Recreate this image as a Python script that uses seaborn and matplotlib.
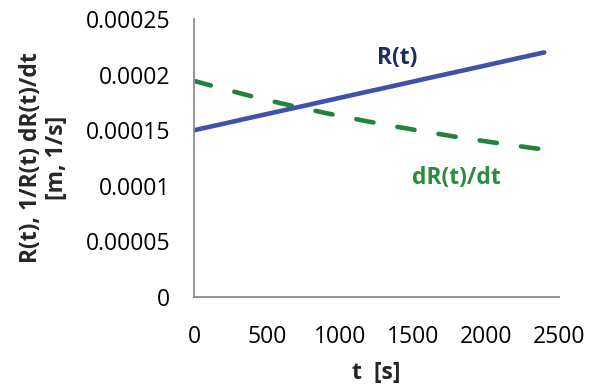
import pandas as pd
import matplotlib
matplotlib.use("Agg")
import matplotlib.pyplot as plt
import seaborn as sns

# values
t_s = [0, 200, 400, 600, 800, 1000, 1200, 1400, 1600, 1800, 2000, 2200, 2400]
r_t = [0.000150, 0.0001558, 0.0001617, 0.0001675, 0.0001733, 0.0001792, 0.000185,
       0.0001908, 0.0001967, 0.0002025, 0.0002083, 0.0002142, 0.000220]
drdt = [0.0001944, 0.0001872, 0.0001804, 0.0001741, 0.0001683, 0.0001628, 0.0001577,
        0.0001529, 0.0001483, 0.0001440, 0.0001400, 0.0001362, 0.0001326]
x_ticks = [0, 500, 1000, 1500, 2000, 2500]
y_ticks = [0, 0.00005, 0.0001, 0.00015, 0.0002, 0.00025]
y_tick_labels = ["0", "0.00005", "0.0001", "0.00015", "0.0002", "0.00025"]

df = pd.DataFrame({"t": t_s, "R": r_t, "dR": drdt})

sns.set_style("white")
plt.rcParams["font.family"] = ["Open Sans", "DejaVu Sans"]

fig = plt.figure(figsize=(5.97, 3.89), dpi=100)
ax = fig.add_axes([0.325, 0.2365, 0.611, 0.7145])

sns.lineplot(data=df, x="t", y="R", ax=ax, color="#3F51A8", linewidth=3.3,
             solid_capstyle="round")
sns.lineplot(data=df, x="t", y="dR", ax=ax, color="#23833A", linewidth=3.3,
             dashes=False)
ax.lines[-1].set_dashes((3.8, 5.3))
ax.lines[-1].set_dash_capstyle("round")

ax.set_xlim(0, 2500)
ax.set_ylim(0, 0.00025)
ax.set_xticks(x_ticks)
ax.set_yticks(y_ticks)
ax.set_yticklabels(y_tick_labels)

# Excel-like axes
sns.despine(ax=ax)
for s in ["left", "bottom"]:
    ax.spines[s].set_color("#8C8C8C")
    ax.spines[s].set_linewidth(1.3)
ax.tick_params(axis="both", direction="out", length=6, width=1.3,
               color="#8C8C8C", labelsize=16.5, labelcolor="black")
ax.tick_params(axis="x", pad=14)
ax.tick_params(axis="y", pad=11)

ax.set_xlabel("t  [s]", fontsize=16.5, fontweight="bold")
ax.set_ylabel("R(t), 1/R(t) dR(t)/dt\n[m, 1/s]", fontsize=16.5, fontweight="bold",
              linespacing=1.08)
ax.xaxis.set_label_coords(0.5, -0.232)
ax.yaxis.set_label_coords(-0.343, 0.5)

ax.text(1395, 0.000215, "R(t)", fontsize=16.5, fontweight="bold", color="#1F2D5C",
        ha="center", va="center")
ax.text(1795, 0.000107, "dR(t)/dt", fontsize=16.5, fontweight="bold", color="#2E8B3E",
        ha="center", va="center")

plt.savefig("out.png", dpi=100)
